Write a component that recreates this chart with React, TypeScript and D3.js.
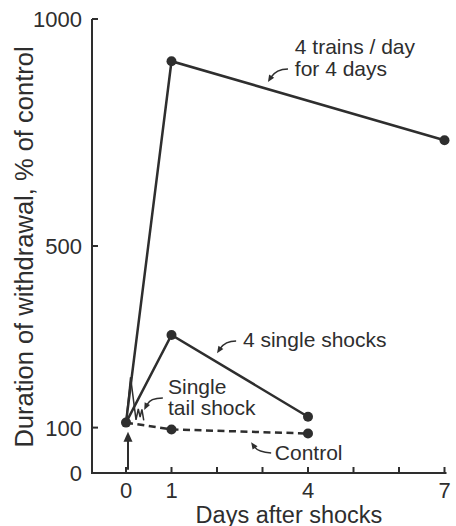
import React from "react";
import * as d3 from "d3";

// Series: days after shocks and withdrawal duration (% of control)
const trainsDays = [0, 1, 7];
const trainsValues = [111, 907, 733];
const singleDays = [0, 1, 4];
const singleValues = [111, 304, 124];
const controlDays = [0, 1, 4];
const controlValues = [111, 96, 87];
// Brief single tail shock response with a time-break squiggle
const tailDays = [0, 0.1, 0.22, 0.27, 0.31, 0.35, 0.39];
const tailValues = [111, 211, 117, 141, 123, 140, 116];

const yTicks = [0, 100, 500, 1000];
const xTickMarks = [0, 1, 2, 3, 4, 5, 6, 7];
const xTickLabels = [0, 1, 4, 7];

const W = 456;
const H = 526;
const INK = "#2e2e2e";
const FONT = "'Liberation Sans', Arial, Helvetica, sans-serif";

const x = d3.scaleLinear().domain([0, 7]).range([126, 444.5]);
const y = d3.scaleLinear().domain([0, 1000]).range([473, 19]);
const axisLeft = 92;

type Pt = [number, number];

const line = d3
  .line<Pt>()
  .x((d) => x(d[0]))
  .y((d) => y(d[1]));

const zip = (a: number[], b: number[]): Pt[] => a.map((v, i) => [v, b[i]]);

// Curved callout arrows: start, control, tip (in data units)
const callouts: { s: Pt; c: Pt; t: Pt }[] = [
  { s: [3.56, 890], c: [3.3, 890], t: [3.12, 861] },
  { s: [2.42, 291], c: [2.18, 291], t: [2.0, 264] },
  { s: [0.81, 165], c: [0.53, 165], t: [0.4, 139] },
  { s: [3.19, 44], c: [2.9, 46], t: [2.75, 68] },
];

function Callout({ s, c, t }: { s: Pt; c: Pt; t: Pt }) {
  const sx = x(s[0]), sy = y(s[1]);
  const cx = x(c[0]), cy = y(c[1]);
  const tx = x(t[0]), ty = y(t[1]);
  const dx = tx - cx, dy = ty - cy;
  const len = Math.hypot(dx, dy) || 1;
  const ux = dx / len, uy = dy / len;
  const hl = 7, hw = 3;
  const bx = tx - ux * hl, by = ty - uy * hl;
  const p = d3.path();
  p.moveTo(sx, sy);
  p.quadraticCurveTo(cx, cy, bx + ux * 1.5, by + uy * 1.5);
  const head = `M${tx},${ty}L${bx - uy * hw},${by + ux * hw}L${bx + uy * hw},${by - ux * hw}Z`;
  return (
    <g>
      <path d={p.toString()} fill="none" stroke={INK} strokeWidth={1.5} />
      <path d={head} fill={INK} />
    </g>
  );
}

const labels: { text: string; d: Pt }[] = [
  { text: "4 trains / day", d: [3.71, 922] },
  { text: "for 4 days", d: [3.71, 875] },
  { text: "4 single shocks", d: [2.57, 278] },
  { text: "Single", d: [0.923, 174] },
  { text: "tail shock", d: [0.923, 128] },
  { text: "Control", d: [3.27, 29] },
];

export default function App() {
  const trains = zip(trainsDays, trainsValues);
  const single = zip(singleDays, singleValues);
  const control = zip(controlDays, controlValues);
  const tail = zip(tailDays, tailValues);
  const y0 = y(0);

  return (
    <svg
      width={W}
      height={H}
      viewBox={`0 0 ${W} ${H}`}
      style={{ position: "absolute", left: 0, top: 0, background: "#fff" }}
      fontFamily={FONT}
    >
      {/* axes */}
      <path
        d={`M${axisLeft},${y(1000)}V${y0}H${x(7) + 2}`}
        fill="none"
        stroke={INK}
        strokeWidth={2}
      />
      {yTicks.map((t) => (
        <g key={`yt${t}`}>
          {t > 0 && (
            <line x1={axisLeft} x2={axisLeft + 6} y1={y(t)} y2={y(t)} stroke={INK} strokeWidth={2} />
          )}
          <text
            x={axisLeft - 10}
            y={y(t)}
            dy="0.36em"
            textAnchor="end"
            fontSize={22}
            fill={INK}
          >
            {t}
          </text>
        </g>
      ))}
      {xTickMarks.map((t) => (
        <line key={`xm${t}`} x1={x(t)} x2={x(t)} y1={y0} y2={y0 - 6} stroke={INK} strokeWidth={2} />
      ))}
      {xTickLabels.map((t) => (
        <text key={`xl${t}`} x={x(t)} y={497.5} textAnchor="middle" fontSize={22} fill={INK}>
          {t}
        </text>
      ))}
      <text x={289} y={522.5} textAnchor="middle" fontSize={23.5} fill={INK}>
        Days after shocks
      </text>
      <text
        transform={`translate(33,${247}) rotate(-90)`}
        textAnchor="middle"
        fontSize={25.5}
        fill={INK}
      >
        Duration of withdrawal, % of control
      </text>

      {/* series */}
      <path d={line(control) ?? ""} fill="none" stroke={INK} strokeWidth={2.5} strokeDasharray="7,4.5" />
      <path d={line(tail) ?? ""} fill="none" stroke={INK} strokeWidth={1.5} strokeLinejoin="miter" />
      <path d={line(single) ?? ""} fill="none" stroke={INK} strokeWidth={2.5} />
      <path d={line(trains) ?? ""} fill="none" stroke={INK} strokeWidth={2.5} />
      {[...trains, ...single.slice(1), ...control.slice(1)].map((d, i) => (
        <circle key={`pt${i}`} cx={x(d[0])} cy={y(d[1])} r={5} fill={INK} />
      ))}

      {/* stimulus arrow at day 0 */}
      <line x1={x(0) + 2} x2={x(0) + 2} y1={y(7)} y2={y(84)} stroke={INK} strokeWidth={2} />
      <path
        d={`M${x(0) + 2},${y(91)}L${x(0) - 2.5},${y(91) + 10}L${x(0) + 6.5},${y(91) + 10}Z`}
        fill={INK}
      />

      {/* callouts */}
      {callouts.map((c, i) => (
        <Callout key={`co${i}`} {...c} />
      ))}
      {labels.map((l, i) => (
        <text key={`lb${i}`} x={x(l.d[0])} y={y(l.d[1])} fontSize={21} fill={INK}>
          {l.text}
        </text>
      ))}
    </svg>
  );
}
